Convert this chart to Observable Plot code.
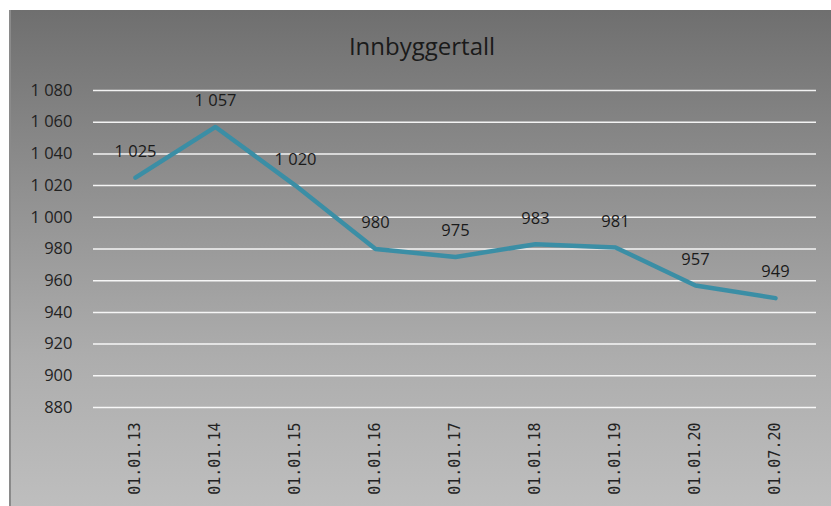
<!DOCTYPE html>
<html>
<head>
<meta charset="utf-8">
<script src="https://cdn.jsdelivr.net/npm/d3@7"></script>
<script src="https://cdn.jsdelivr.net/npm/@observablehq/plot@0.6"></script>
<style>
  html, body { margin: 0; padding: 0; background: #fff; }
  #wrap { position: absolute; left: 9px; top: 10px; width: 822px; height: 496px;
          background: linear-gradient(to bottom, #6f6f6f 0%, #8f8f8f 35%, #adadad 70%, #bebebe 100%);
          border-left: 2px solid #8a8a8a; box-sizing: border-box; overflow: hidden; }
  #title { position: absolute; left: 0; width: 822px; top: 19px; text-align: center;
           font-family: "Open Sans", sans-serif; font-size: 24px; color: #1a1a1a; }
  #chart { position: absolute; left: -2px; top: 0; }
</style>
</head>
<body>
<div id="wrap">
  <div id="title">Innbyggertall</div>
  <div id="chart"></div>
</div>
<script>
const dates = ["01.01.13", "01.01.14", "01.01.15", "01.01.16", "01.01.17", "01.01.18", "01.01.19", "01.01.20", "01.07.20"];
const values = [1025, 1057, 1020, 980, 975, 983, 981, 957, 949];
const yTicks = [880, 900, 920, 940, 960, 980, 1000, 1020, 1040, 1060, 1080];

const data = dates.map((d, i) => ({date: d, value: values[i]}));
const fmt = d3.formatLocale({decimal: ",", thousands: " ", grouping: [3], currency: ["", ""]}).format(",d");

const chart = Plot.plot({
  width: 822,
  height: 496,
  marginTop: 80,
  marginBottom: 99,
  marginLeft: 84,
  marginRight: 15,
  style: {background: "transparent", color: "#222", fontFamily: "Open Sans, sans-serif"},
  x: {type: "point", domain: dates, padding: 0.5, label: null},
  y: {domain: [880, 1080], label: null},
  marks: [
    Plot.ruleY(yTicks, {stroke: "#ffffff", strokeWidth: 1.5, strokeOpacity: 0.9}),
    Plot.axisY({ticks: yTicks, tickSize: 0, tickPadding: 21, tickFormat: fmt, fontSize: 16.5, label: null}),
    Plot.axisX({tickSize: 0, tickPadding: 15, tickRotate: -90, fontFamily: "DejaVu Sans Mono", fontSize: 15, label: null}),
    Plot.line(data, {x: "date", y: "value", stroke: "#3b8ea5", strokeWidth: 4.5, strokeLinejoin: "round"}),
    Plot.text(data, {x: "date", y: "value", text: d => fmt(d.value), dy: -26, fontSize: 16.5, fill: "#1a1a1a"})
  ]
});
document.getElementById("chart").appendChild(chart);
</script>
</body>
</html>
